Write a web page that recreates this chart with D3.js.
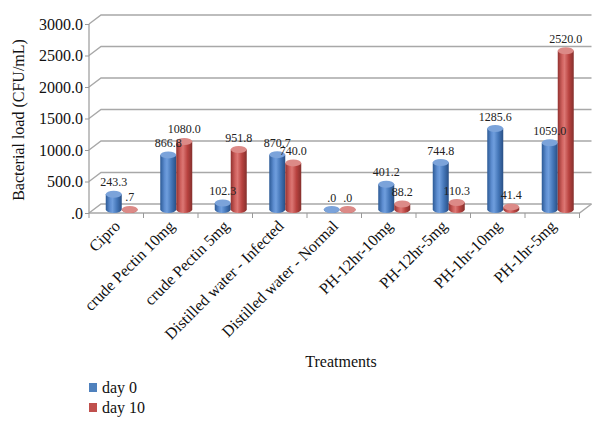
<!DOCTYPE html>
<html><head><meta charset="utf-8">
<script src="https://cdn.jsdelivr.net/npm/d3@7"></script>
<style>body{margin:0;background:#fff}svg{display:block}text{font-family:"Liberation Serif","Times New Roman",serif}</style>
</head><body>
<script>
const categories = ["Cipro","crude Pectin 10mg","crude Pectin 5mg","Distilled water - Infected","Distilled water - Normal","PH-12hr-10mg","PH-12hr-5mg","PH-1hr-10mg","PH-1hr-5mg"];
const seriesNames = ["day 0","day 10"];
const day0 = [243.3, 866.8, 102.3, 870.7, 0, 401.2, 744.8, 1285.6, 1059.0];
const day10 = [0.7, 1080.0, 951.8, 740.0, 0, 88.2, 110.3, 41.4, 2520.0];
const yTicks = [0, 500, 1000, 1500, 2000, 2500, 3000];
const labelFmt = v => { const s = v.toFixed(1); return s.startsWith("0") ? s.slice(1) : s; };

const W = 607, H = 427;
const svg = d3.select("body").append("svg").attr("width", W).attr("height", H);
const defs = svg.append("defs");

const x = d3.scaleBand().domain(categories).range([89, 579.5]);
const sub = d3.scaleBand().domain(seriesNames).range([-16, 16]);
const y = d3.scaleLinear().domain([0, 3000]).range([213, 24]);
const depth = {dx: 12, dy: -9};
const mid = {dx: 5.5, dy: -3.5};

const colors = {
  "day 0": {base: "#4f81bd", stops: ["#2c5a96", "#5f8fd2", "#6f9edd", "#4476b8", "#284f85"], top: "#7ba3da"},
  "day 10": {base: "#c0504d", stops: ["#93312f", "#d0625f", "#dc7774", "#b8423f", "#85302d"], top: "#dc8a87"}
};
seriesNames.forEach((s, i) => {
  const g = defs.append("linearGradient").attr("id", "g" + i).attr("x1", 0).attr("x2", 1).attr("y1", 0).attr("y2", 0);
  const offs = [0, 0.28, 0.42, 0.7, 1];
  colors[s].stops.forEach((c, j) => g.append("stop").attr("offset", offs[j]).attr("stop-color", c));
});

// gridlines
const grid = svg.append("g").attr("stroke", "#a8a8a8").attr("stroke-width", 1.4).attr("fill", "none");
yTicks.forEach(t => {
  const yy = y(t);
  grid.append("path").attr("d", `M${x.range()[0]},${yy} L${x.range()[0] + depth.dx},${yy + depth.dy} L${x.range()[1] + depth.dx},${yy + depth.dy}`);
});
// floor front edge and right edge
grid.append("path").attr("d", `M${x.range()[0]},${y(0)} L${x.range()[1]},${y(0)} L${x.range()[1] + depth.dx},${y(0) + depth.dy}`);

// y axis
const yAxisG = svg.append("g").attr("transform", `translate(${x.range()[0]},0)`)
  .call(d3.axisLeft(y).tickValues(yTicks).tickFormat(labelFmt).tickSize(4).tickPadding(2));
yAxisG.select(".domain").attr("stroke", "#999").attr("stroke-width", 1.2).attr("d", `M0,${y(3000)}V${y(0)}`);
yAxisG.selectAll(".tick line").attr("stroke", "#999");
yAxisG.selectAll(".tick text").attr("font-size", 16).attr("fill", "#111").attr("font-family", "Liberation Serif");

// x axis
const xAxisG = svg.append("g").attr("transform", `translate(0,${y(0)})`);
const bounds = categories.map(c => x(c)).concat([x.range()[1]]);
xAxisG.selectAll("line").data(bounds).join("line")
  .attr("x1", d => d).attr("x2", d => d).attr("y1", 0).attr("y2", 5).attr("stroke", "#999");
xAxisG.selectAll("text").data(categories).join("text")
  .attr("transform", d => `translate(${x(d) + x.bandwidth() / 2 + 5},${14}) rotate(-45)`)
  .attr("text-anchor", "end").attr("font-size", 16).attr("fill", "#111").text(d => d);

// bars (cylinders)
const rx = 8, ry = 3.5;
const barsG = svg.append("g");
const labelsG = svg.append("g");
categories.forEach((c, i) => {
  seriesNames.forEach((s, k) => {
    const v = (k === 0 ? day0 : day10)[i];
    const cx = x(c) + x.bandwidth() / 2 + mid.dx + sub(s) + sub.bandwidth() / 2;
    const yb = y(0) + mid.dy;
    const yt = y(v) + mid.dy;
    const g = barsG.append("g");
    g.append("path")
      .attr("d", `M${cx - rx},${yt} V${yb} A${rx},${ry} 0 0 0 ${cx + rx},${yb} V${yt} Z`)
      .attr("fill", `url(#g${k})`);
    g.append("ellipse").attr("cx", cx).attr("cy", yt).attr("rx", rx).attr("ry", ry)
      .attr("fill", colors[s].top);
    labelsG.append("text").attr("x", cx).attr("y", yt - 8).attr("text-anchor", "middle")
      .attr("font-size", 12).attr("fill", "#222").text(labelFmt(v));
  });
});

// axis titles
svg.append("text").attr("transform", `translate(24,120) rotate(-90)`).attr("text-anchor", "middle")
  .attr("font-size", 16).attr("fill", "#111").text("Bacterial load (CFU/mL)");
svg.append("text").attr("x", 341).attr("y", 367).attr("text-anchor", "middle")
  .attr("font-size", 16).attr("fill", "#111").text("Treatments");

// legend
const leg = svg.append("g").attr("transform", "translate(89,383)");
seriesNames.forEach((s, k) => {
  leg.append("rect").attr("x", 0).attr("y", k * 20).attr("width", 8).attr("height", 9).attr("fill", colors[s].base);
  leg.append("text").attr("x", 13).attr("y", k * 20 + 10).attr("font-size", 16).attr("fill", "#111").text(s);
});
</script>
</body></html>
